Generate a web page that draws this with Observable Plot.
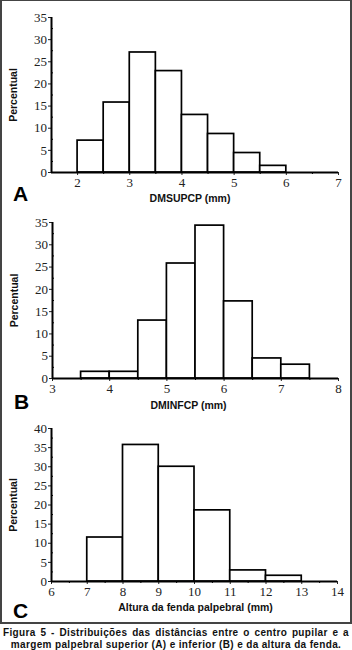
<!DOCTYPE html>
<html><head><meta charset="utf-8">
<script src="https://cdn.jsdelivr.net/npm/d3@7"></script>
<script src="https://cdn.jsdelivr.net/npm/@observablehq/plot@0.6"></script>
<style>
body{margin:0;background:#fff;}
#fig{position:relative;width:352px;height:650px;overflow:hidden;}
#frame{position:absolute;left:0;top:0;width:352px;height:624px;box-sizing:border-box;border:2px solid #444;border-top-width:1px;}
.panel{position:absolute;left:0;}
.panel svg g[aria-label$="tick label"] text{font-family:'Liberation Serif','Times New Roman',serif !important;font-size:13px !important;}
.cap{position:absolute;left:3px;width:346px;font:bold 10px 'Liberation Sans',Arial,sans-serif;letter-spacing:0.35px;color:#111;white-space:nowrap;}
</style></head><body>
<div id="fig">
<div id="frame"></div>
<div id="pA" class="panel" style="top:0px"></div>
<div id="pB" class="panel" style="top:207px"></div>
<div id="pC" class="panel" style="top:417px"></div>
<div class="cap" id="cap1" style="top:627px;text-align:justify;text-align-last:justify;white-space:normal;"></div>
<div class="cap" id="cap2" style="top:639px;text-align:center;"></div>
</div>
<script>
// Panel A: DMSUPCP
const aEdges = [2, 2.5, 3, 3.5, 4, 4.5, 5, 5.5, 6];
const aPct = [7.2, 15.8, 27.1, 22.9, 13.0, 8.7, 4.4, 1.5];
const aXTicks = [2, 3, 4, 5, 6, 7];
const aYTicks = [0, 5, 10, 15, 20, 25, 30, 35];
const aXLabel = "DMSUPCP (mm)";
// Panel B: DMINFCP
const bEdges = [3.5, 4, 4.5, 5, 5.5, 6, 6.5, 7, 7.5];
const bPct = [1.5, 1.5, 13.0, 25.8, 34.3, 17.3, 4.5, 3.1];
const bXTicks = [3, 4, 5, 6, 7, 8];
const bYTicks = [0, 5, 10, 15, 20, 25, 30, 35];
const bXLabel = "DMINFCP (mm)";
// Panel C: Altura da fenda palpebral
const cEdges = [7, 8, 9, 10, 11, 12, 13];
const cPct = [11.5, 35.7, 30.0, 18.6, 2.9, 1.5];
const cXTicks = [6, 7, 8, 9, 10, 11, 12, 13, 14];
const cYTicks = [0, 5, 10, 15, 20, 25, 30, 35, 40];
const cXLabel = "Altura da fenda palpebral (mm)";
const yLabel = "Percentual";
const caption1 = "Figura 5 - Distribuições das distâncias entre o centro pupilar e a";
const caption2 = "margem palpebral superior (A) e inferior (B) e da altura da fenda.";

const SANS = "'Liberation Sans', Arial, sans-serif";
const SERIF = "'Liberation Serif', 'Times New Roman', serif";

function mids(t) { const r = []; for (let i = 0; i + 1 < t.length; i++) r.push((t[i] + t[i + 1]) / 2); return r; }

function panel(edges, pct, xTicks, yTicks, xLabel, letter, g) {
  const rows = pct.map((p, i) => ({x1: edges[i], x2: edges[i + 1], p}));
  const xd = [g.xmin, xTicks[xTicks.length - 1]];
  const yd = [0, yTicks[yTicks.length - 1]];
  return Plot.plot({
    width: 352, height: g.height,
    marginLeft: g.ml, marginRight: g.mr, marginTop: g.mt, marginBottom: g.mb,
    style: {background: "transparent"},
    x: {domain: xd}, y: {domain: yd},
    marks: [
      Plot.rect(rows, {x1: "x1", x2: "x2", y1: 0, y2: "p", fill: "white", stroke: "black", strokeWidth: 1.7}),
      Plot.axisY({ticks: yTicks, tickFormat: d => String(d), tickSize: 3, tickPadding: 1.5, fontSize: 13, fontFamily: SERIF, color: "#222", label: null}),
      Plot.axisY({ticks: mids(yTicks), tickSize: -2, text: null, label: null, stroke: "#000"}),
      Plot.axisX({ticks: xTicks, tickFormat: d => String(d), tickSize: 3, tickPadding: 2, fontSize: 13, fontFamily: SERIF, color: "#222", label: null}),
      Plot.axisX({ticks: mids(xTicks), tickSize: 2, text: null, label: null, stroke: "#000"}),
      Plot.ruleY([0], {strokeWidth: 2, stroke: "black"}),
      Plot.ruleX([g.xmin], {y1: 0, y2: yd[1], strokeWidth: 2, stroke: "black"}),
      Plot.text([xLabel], {text: d => d, frameAnchor: "bottom", dx: g.ldx, dy: g.ldy, textAnchor: "middle", lineAnchor: "middle", fontFamily: SANS, fontWeight: "bold", fontSize: 10.5, fill: "#111"}),
      Plot.text([letter], {text: d => d, frameAnchor: "bottom-left", dx: -31, dy: g.Ldy, textAnchor: "middle", lineAnchor: "middle", fontFamily: SANS, fontWeight: "bold", fontSize: 21, fill: "#000"}),
      Plot.text([yLabel], {text: d => d, frameAnchor: "left", dx: -38, rotate: -90, textAnchor: "middle", lineAnchor: "middle", fontFamily: SANS, fontWeight: "bold", fontSize: 10.5, fill: "#111"})
    ]
  });
}

document.getElementById("pA").append(panel(aEdges, aPct, aXTicks, aYTicks, aXLabel, "A",
  {xmin: 1.5, height: 207, ml: 51, mr: 14, mt: 17, mb: 35, ldx: -5, ldy: 26, Ldy: 21.5}));
document.getElementById("pB").append(panel(bEdges, bPct, bXTicks, bYTicks, bXLabel, "B",
  {xmin: 3, height: 210, ml: 52, mr: 14, mt: 15, mb: 39, ldx: -7, ldy: 27, Ldy: 24}));
document.getElementById("pC").append(panel(cEdges, cPct, cXTicks, cYTicks, cXLabel, "C",
  {xmin: 6, height: 207, ml: 51, mr: 15, mt: 11, mb: 43, ldx: 1, ldy: 26, Ldy: 30}));
document.getElementById("cap1").textContent = caption1;
document.getElementById("cap2").textContent = caption2;
</script>
</body></html>
